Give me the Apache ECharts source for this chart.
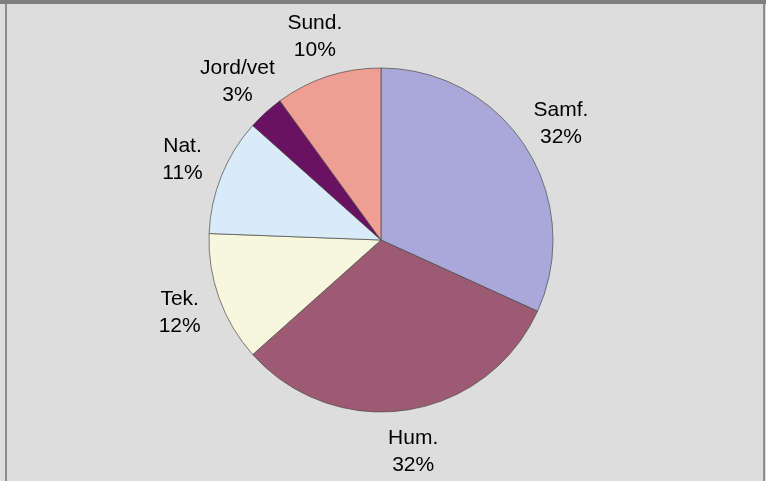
<!DOCTYPE html>
<html>
<head>
<meta charset="utf-8">
<script src="https://cdn.jsdelivr.net/npm/echarts@6/dist/echarts.min.js"></script>
<style>
    html, body { margin: 0; padding: 0; background: #dddddd; }
    #chart { position: absolute; left: 0; top: 0; width: 766px; height: 481px; }
    #topbar { position: absolute; left: 0; top: 0; width: 766px; height: 4px; background: #7f7f7f; }
    #frame { position: absolute; left: 5px; top: 4px; width: 756px; height: 477px;
             border-left: 2px solid #8c8c8c; border-right: 2px solid #8c8c8c; }
</style>
</head>
<body>
<div id="chart"></div>
<div id="topbar"></div>
<div id="frame"></div>
<script>
    // fag-områder, med uret fra kl. 12
    const names = ['Samf.', 'Hum.', 'Tek.', 'Nat.', 'Jord/vet', 'Sund.'];
    const shares = [31.8, 31.6, 12.2, 11.0, 3.4, 10.0];
    const colors = ['#a9a8d8', '#9d5b73', '#f7f7dd', '#d9eaf8', '#6a1262', '#ef9e93'];

    let data = names.map((name, i) => ({ name: name, value: shares[i] }));

    let chart = echarts.init(document.getElementById('chart'));

    let option = {
        animation: false,
        color: colors,
        series: [
            {
                type: 'pie',
                center: [381, 240],
                radius: 172,
                startAngle: 90,
                clockwise: true,
                silent: true,
                label: { show: false },
                labelLine: { show: false },
                itemStyle: { borderColor: '#4a4a4a', borderWidth: 0.7 },
                data: data
            },
            {
                // usynlig ring som bærer etikettene
                type: 'pie',
                center: [381, 240],
                radius: [200, 222],
                startAngle: 90,
                clockwise: true,
                silent: true,
                percentPrecision: 0,
                itemStyle: { color: 'transparent', borderWidth: 0 },
                label: {
                    show: true,
                    position: 'inside',
                    formatter: '{b}\n{d}%',
                    color: '#000',
                    fontFamily: 'Liberation Sans, Arial, sans-serif',
                    fontSize: 21,
                    lineHeight: 27,
                    align: 'center'
                },
                labelLine: { show: false },
                data: data
            }
        ]
    };

    chart.setOption(option);
</script>
</body>
</html>
